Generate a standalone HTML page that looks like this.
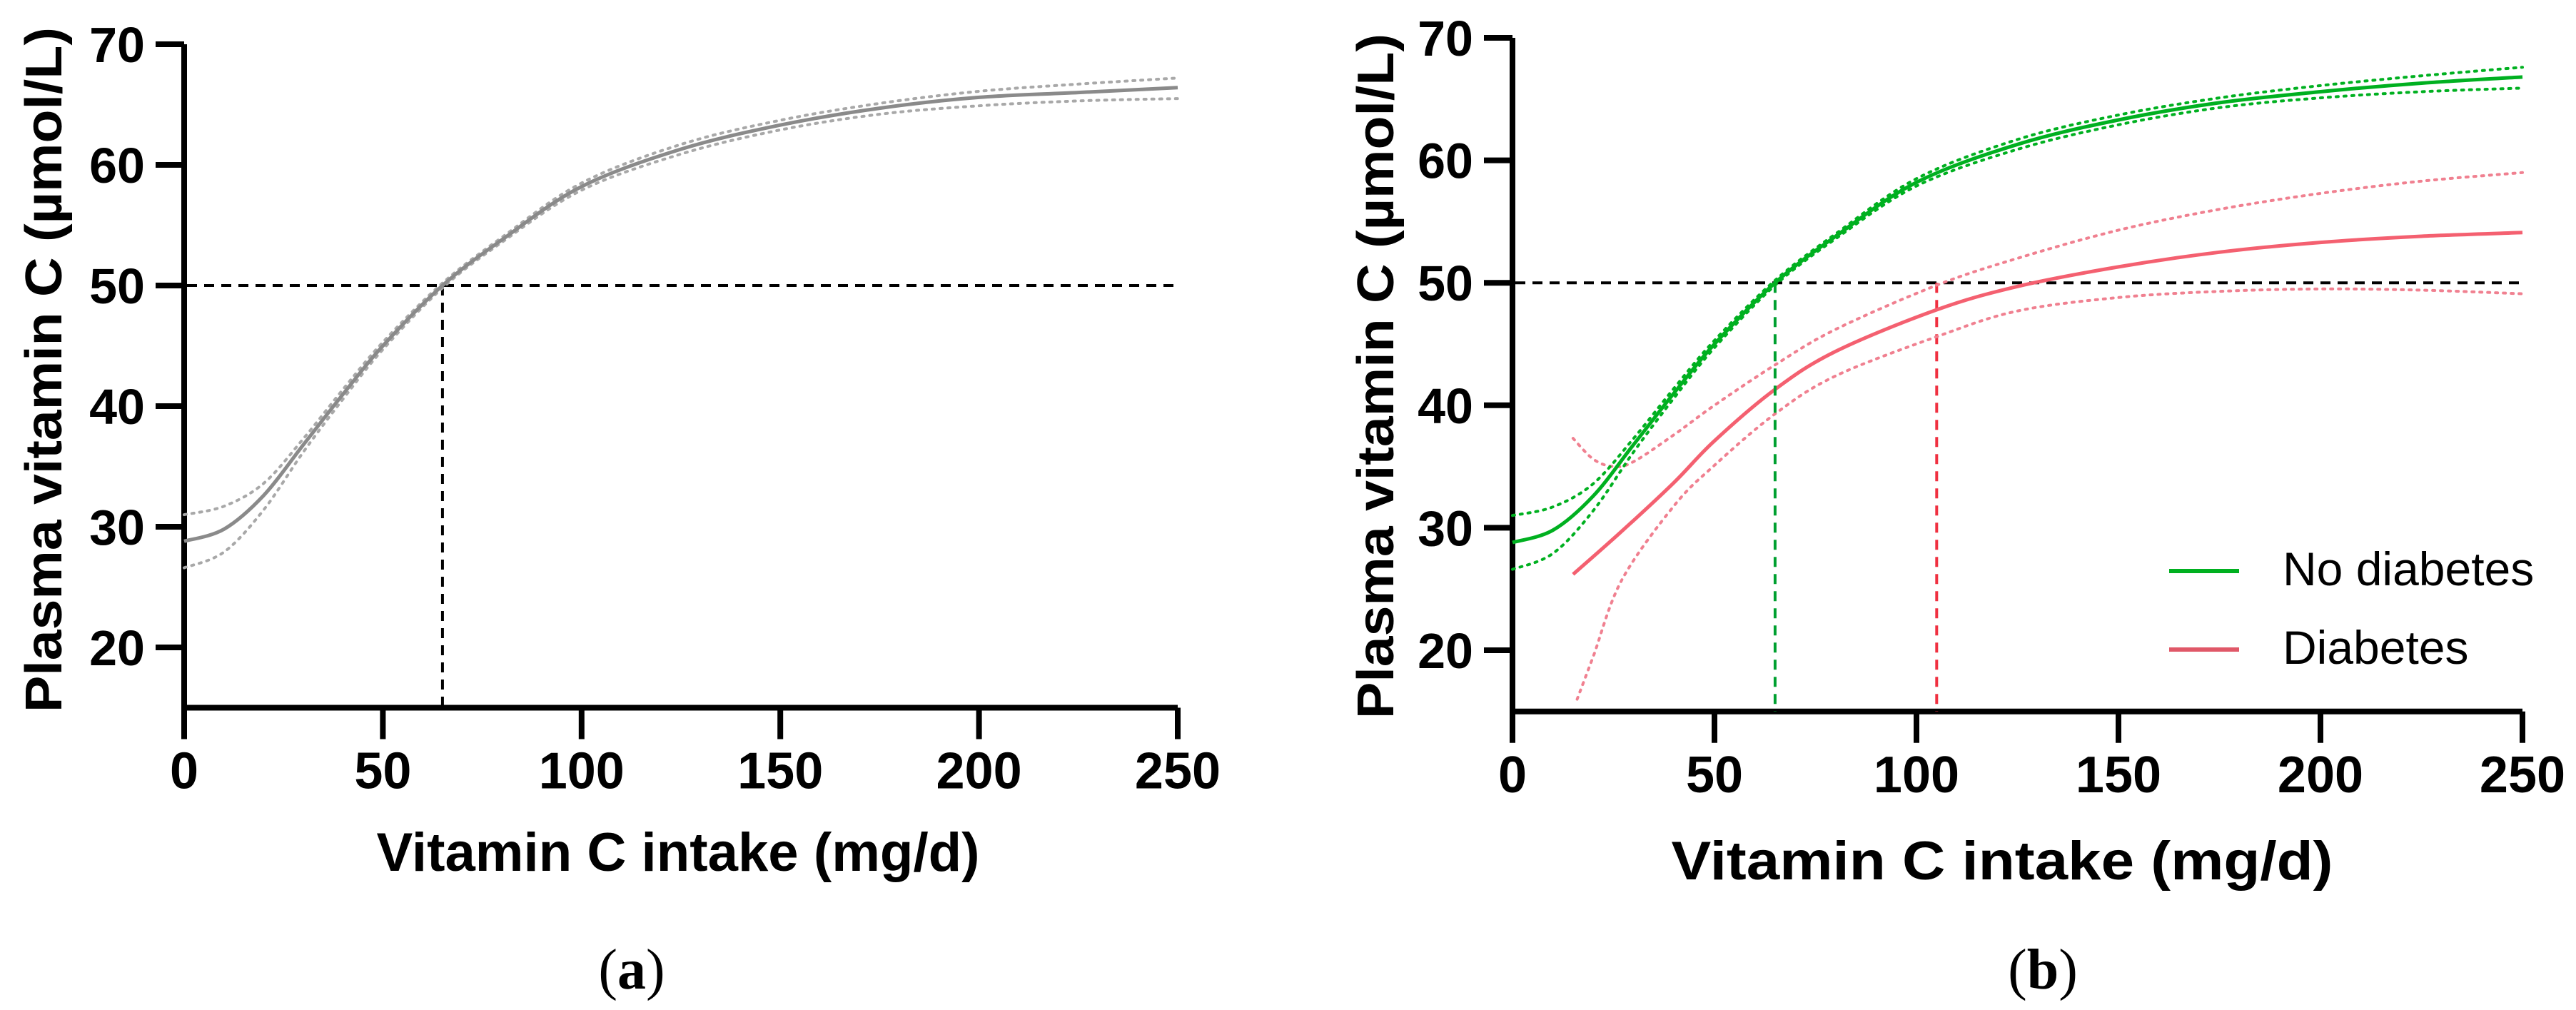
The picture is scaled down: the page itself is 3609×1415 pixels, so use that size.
<!DOCTYPE html>
<html><head><meta charset="utf-8">
<style>
html,body{margin:0;padding:0;background:#fff;}
svg{display:block;}
text{font-family:"Liberation Sans",Arial,sans-serif;}
</style></head>
<body>
<svg id="fig" width="3609" height="1415" viewBox="0 0 3609 1415" xmlns="http://www.w3.org/2000/svg">
<rect width="3609" height="1415" fill="#fff"/>
<g id="panelA"></g>
<g id="panelB"></g>
<g>
  <line x1="3039" y1="800" x2="3137" y2="800" stroke="#00b020" stroke-width="6"/>
  <text x="3198" y="820" font-size="66">No diabetes</text>
  <line x1="3039" y1="910" x2="3137" y2="910" stroke="#e05868" stroke-width="6"/>
  <text x="3198" y="930" font-size="66">Diabetes</text>
</g>
<text x="885" y="1385" font-size="80" text-anchor="middle" style="font-family:'Liberation Serif',serif">(<tspan font-weight="bold">a</tspan>)</text>
<text x="2862" y="1385" font-size="80" text-anchor="middle" style="font-family:'Liberation Serif',serif">(<tspan font-weight="bold">b</tspan>)</text>
</svg>
<script>
// ---- data ----
const xTicks = [0, 50, 100, 150, 200, 250];
const yTicks = [20, 30, 40, 50, 60, 70];
const threshold = 50;

const allX = [0, 10, 20, 30, 40, 50, 65, 80, 100, 125, 150, 175, 200, 225, 250];
const allFit = [28.8, 29.8, 32.6, 36.8, 41, 45, 50, 53.8, 58.2, 61.3, 63.3, 64.7, 65.6, 66.0, 66.4];
const allUpper = [31, 31.7, 33.6, 37.3, 41.4, 45.3, 50.2, 54, 58.5, 61.7, 63.7, 65.1, 66.1, 66.7, 67.2];
const allLower = [26.6, 27.9, 31.4, 36.2, 40.6, 44.7, 49.8, 53.6, 57.9, 60.9, 62.9, 64.2, 64.9, 65.3, 65.5];
const allCross = 65;

const noDiabX = [0, 10, 20, 30, 40, 50, 65, 80, 100, 125, 150, 175, 200, 225, 250];
const noDiabFit = [28.8, 29.8, 32.6, 36.8, 41, 45, 50, 53.8, 58.2, 61.3, 63.3, 64.7, 65.6, 66.3, 66.8];
const noDiabUpper = [31, 31.7, 33.6, 37.3, 41.4, 45.3, 50.2, 54, 58.5, 61.7, 63.7, 65.1, 66.1, 66.9, 67.6];
const noDiabLower = [26.6, 27.9, 31.4, 36.2, 40.6, 44.7, 49.8, 53.6, 57.9, 60.9, 62.9, 64.3, 65.1, 65.6, 65.9];
const noDiabCross = 65;

const diabX = [15, 27, 40, 50, 65, 80, 105, 125, 150, 175, 200, 225, 250];
const diabFit = [26.2, 29.7, 33.7, 37.1, 41.3, 44.4, 47.8, 49.7, 51.3, 52.5, 53.3, 53.8, 54.1];
const diabUpperX = [15, 20, 25, 30, 40, 50, 65, 80, 105, 125, 150, 175, 200, 225, 250];
const diabUpper = [37.3, 35.6, 35, 35.4, 37.6, 40, 43.3, 46.2, 49.8, 52, 54.3, 56, 57.3, 58.3, 59];
const diabLowerX = [16, 20, 27, 40, 50, 65, 80, 105, 125, 150, 175, 200, 225, 250];
const diabLower = [16, 19.5, 25.7, 31.8, 35.1, 39.3, 42.4, 45.6, 47.7, 48.8, 49.3, 49.5, 49.4, 49.1];
const diabCross = 105;

const NS = "http://www.w3.org/2000/svg";
function mk(parent, tag, attrs) {
  const e = document.createElementNS(NS, tag);
  for (const k in attrs) e.setAttribute(k, attrs[k]);
  parent.appendChild(e);
  return e;
}
function smoothPath(xs, ys, sx, sy) {
  const p = xs.map((x, i) => [sx(x), sy(ys[i])]);
  let d = "M" + p[0][0].toFixed(1) + "," + p[0][1].toFixed(1);
  for (let i = 0; i < p.length - 1; i++) {
    const p0 = p[Math.max(0, i - 1)], p1 = p[i], p2 = p[i + 1], p3 = p[Math.min(p.length - 1, i + 2)];
    const c1 = [p1[0] + (p2[0] - p0[0]) / 6, p1[1] + (p2[1] - p0[1]) / 6];
    const c2 = [p2[0] - (p3[0] - p1[0]) / 6, p2[1] - (p3[1] - p1[1]) / 6];
    d += " C" + c1[0].toFixed(1) + "," + c1[1].toFixed(1) + " " + c2[0].toFixed(1) + "," + c2[1].toFixed(1) + " " + p2[0].toFixed(1) + "," + p2[1].toFixed(1);
  }
  return d;
}

function drawPanel(g, cfg) {
  const sx = v => cfg.x0 + (v - 0) / 250 * (cfg.x1 - cfg.x0);
  const sy = v => cfg.y70 + (70 - v) * cfg.pxPerUnit;
  const yBase = sy(15);
  const ax = mk(g, "path", {d: "M" + sx(0) + "," + (sy(70)) + " V" + yBase + " H" + sx(250), fill: "none", stroke: "#000", "stroke-width": 8});
  
  
  yTicks.forEach(t => {
    const l = mk(g, "line", {x1: sx(0) - 40, x2: sx(0), y1: sy(t), y2: sy(t), stroke: "#000", "stroke-width": 8});
    
    
    const tx = mk(g, "text", {x: sx(0) - 55, y: sy(t) + 25, "font-size": 70, "font-weight": "bold", "text-anchor": "end"});
    
    
    tx.textContent = t;
  });
  xTicks.forEach(t => {
    const l = mk(g, "line", {x1: sx(t), x2: sx(t), y1: yBase, y2: yBase + 44, stroke: "#000", "stroke-width": 8});
    
    
    const tx = mk(g, "text", {x: sx(t), y: yBase + 113, "font-size": 72, "font-weight": "bold", "text-anchor": "middle"});
    
    
    tx.textContent = t;
  });
  const xt = mk(g, "text", {x: cfg.xTitleX, y: cfg.xTitleY, "font-size": 76, "font-weight": "bold", "text-anchor": "middle", textLength: cfg.xTitleLen, lengthAdjust: "spacingAndGlyphs"});
  
  
  xt.textContent = "Vitamin C intake (mg/d)";
  const yt = mk(g, "text", {x: 0, y: 0, "font-size": 72, "font-weight": "bold", "text-anchor": "middle", textLength: 960, lengthAdjust: "spacingAndGlyphs", transform: "translate(" + cfg.yTitleX + "," + cfg.yTitleY + ") rotate(-90)"});
  
  
  yt.textContent = "Plasma vitamin C (\u00B5mol/L)";
  const hl = mk(g, "line", {x1: sx(0) + 4, x2: sx(250), y1: sy(threshold), y2: sy(threshold), stroke: "#000", "stroke-width": 4, "stroke-dasharray": "14 10"});
  
  
  cfg.series.forEach(s => {
    const vl = mk(g, "line", {x1: sx(s.cross), x2: sx(s.cross), y1: sy(threshold), y2: yBase, stroke: s.vcolor, "stroke-width": 4, "stroke-dasharray": "14 10"});
    
    
    const up = mk(g, "path", {d: smoothPath(s.ux, s.upper, sx, sy), fill: "none", stroke: s.ciColor, "stroke-width": 4, "stroke-dasharray": "3 8", "stroke-linecap": "round"});
    
    
    const lo = mk(g, "path", {d: smoothPath(s.lx, s.lower, sx, sy), fill: "none", stroke: s.ciColor, "stroke-width": 4, "stroke-dasharray": "3 8", "stroke-linecap": "round"});
    
    
    const fit = mk(g, "path", {d: smoothPath(s.x, s.fit, sx, sy), fill: "none", stroke: s.color, "stroke-width": 5});
    
    
  });
}

drawPanel(document.getElementById("panelA"), {
  x0: 258, x1: 1650, y70: 62, pxPerUnit: 16.9,
  xTitleX: 950, xTitleY: 1220, xTitleLen: 845,
  yTitleX: 86, yTitleY: 518,
  series: [{name: "all", x: allX, fit: allFit, ux: allX, upper: allUpper, lx: allX, lower: allLower, cross: allCross,
            color: "#8a8a8a", ciColor: "#a8a8a8", vcolor: "#000"}]
});
drawPanel(document.getElementById("panelB"), {
  x0: 2119, x1: 3534, y70: 53, pxPerUnit: 17.16,
  xTitleX: 2805, xTitleY: 1232, xTitleLen: 927,
  yTitleX: 1952, yTitleY: 527,
  series: [
    {name: "diabetes", x: diabX, fit: diabFit, ux: diabUpperX, upper: diabUpper, lx: diabLowerX, lower: diabLower, cross: diabCross,
     color: "#f46070", ciColor: "#f08090", vcolor: "#f03040"},
    {name: "no-diabetes", x: noDiabX, fit: noDiabFit, ux: noDiabX, upper: noDiabUpper, lx: noDiabX, lower: noDiabLower, cross: noDiabCross,
     color: "#00b020", ciColor: "#00b020", vcolor: "#00a030"}
  ]
});
</script>
</body></html>
